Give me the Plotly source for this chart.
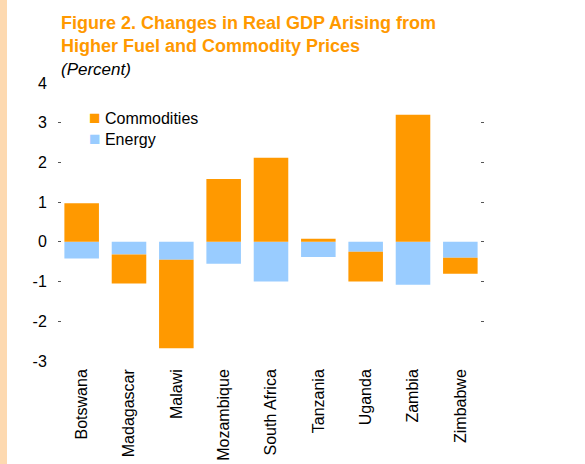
import plotly.graph_objects as go

countries = ["Botswana", "Madagascar", "Malawi", "Mozambique", "South Africa",
             "Tanzania", "Uganda", "Zambia", "Zimbabwe"]
energy = [-0.42, -0.32, -0.45, -0.55, -1.00, -0.38, -0.25, -1.08, -0.40]
commodities = [0.97, -0.73, -2.23, 1.58, 2.12, 0.08, -0.75, 3.20, -0.40]
y_ticks = [4, 3, 2, 1, 0, -1, -2, -3]
y_tick_labels = ["4", "3", "2", "1", "0", "-1", "-2", "-3"]

ORANGE = "#FF9900"
BLUE = "#99CCFF"
FONT = "Liberation Sans, Arial, sans-serif"

L, R, T, B = 58, 101, 83, 103
W, H = 585, 464
pw = W - L - R
ph = H - T - B

fig = go.Figure()
fig.add_trace(go.Bar(x=countries, y=energy, name="Energy", marker_color=BLUE,
                     marker_line_width=0, showlegend=False))
fig.add_trace(go.Bar(x=countries, y=commodities, name="Commodities",
                     marker_color=ORANGE, marker_line_width=0, showlegend=False))

n = len(countries)
boundaries = [i + 0.5 for i in range(n - 1)]

fig.update_layout(
    width=W, height=H,
    margin=dict(l=L, r=R, t=T, b=B, autoexpand=False),
    paper_bgcolor="white", plot_bgcolor="white",
    barmode="relative", bargap=0.27,
    font=dict(family=FONT, size=16, color="black"),
    title=dict(text="Figure 2. Changes in Real GDP Arising from<br>Higher Fuel and Commodity Prices",
               x=61 / W, xanchor="left", xref="container",
               y=1 - 29 / H, yanchor="top", yref="container",
               font=dict(family=FONT, size=18, color=ORANGE, weight="bold")),
    xaxis=dict(type="category", categoryarray=countries, range=[-0.5, n - 0.5],
               showline=False, ticks="", tickangle=-90, showgrid=False, automargin=False,
               zeroline=False, tickfont=dict(size=16), ticklabelstandoff=4),
    xaxis2=dict(overlaying="x", anchor="free", position=3 / 7, range=[-0.5, n - 0.5],
                tickvals=boundaries, showticklabels=False, ticks="outside",
                ticklen=4, tickcolor="#555555", tickwidth=1.5, automargin=False,
                showline=True, linecolor="#333333", linewidth=1.5,
                showgrid=False, zeroline=False),
    yaxis=dict(range=[-3, 4], tickvals=y_ticks, ticktext=y_tick_labels,
               ticks="inside", ticklen=3, tickcolor="#555555", tickwidth=1,
               showline=True, linecolor="rgba(0,0,0,0)", mirror="ticks", automargin=False,
               showgrid=False, zeroline=False, tickfont=dict(size=16),
               ticklabelstandoff=7),
)

fig.add_annotation(text="<i>(Percent)</i>", xref="paper", yref="paper",
                   x=(59 - L) / pw, y=(361 - 58) / ph, xanchor="left", yanchor="top",
                   showarrow=False, font=dict(size=17, color="black"), align="left")

# legend drawn as text entries (Commodities first, Energy second)
legend_items = [("Commodities", ORANGE), ("Energy", BLUE)]
legend_text = "<br>".join(
    f"<span style='color:{col};font-size:19px'>■</span> {name}" for name, col in legend_items)
fig.add_annotation(text=legend_text, xref="paper", yref="paper",
                   x=(87 - L) / pw, y=(361 - 127.5) / ph,
                   xanchor="left", yanchor="middle", showarrow=False,
                   font=dict(size=16, color="black"), align="left")

fig.add_shape(type="rect", xref="paper", yref="paper",
              x0=-L / pw, x1=(7 - L) / pw, y0=-B / ph, y1=1 + T / ph,
              fillcolor="#FDD9B0", line_width=0, layer="below")

fig.write_html("out.html", config={"displayModeBar": False},
               post_script="document.body.style.margin='0';document.body.style.overflow='hidden';")
